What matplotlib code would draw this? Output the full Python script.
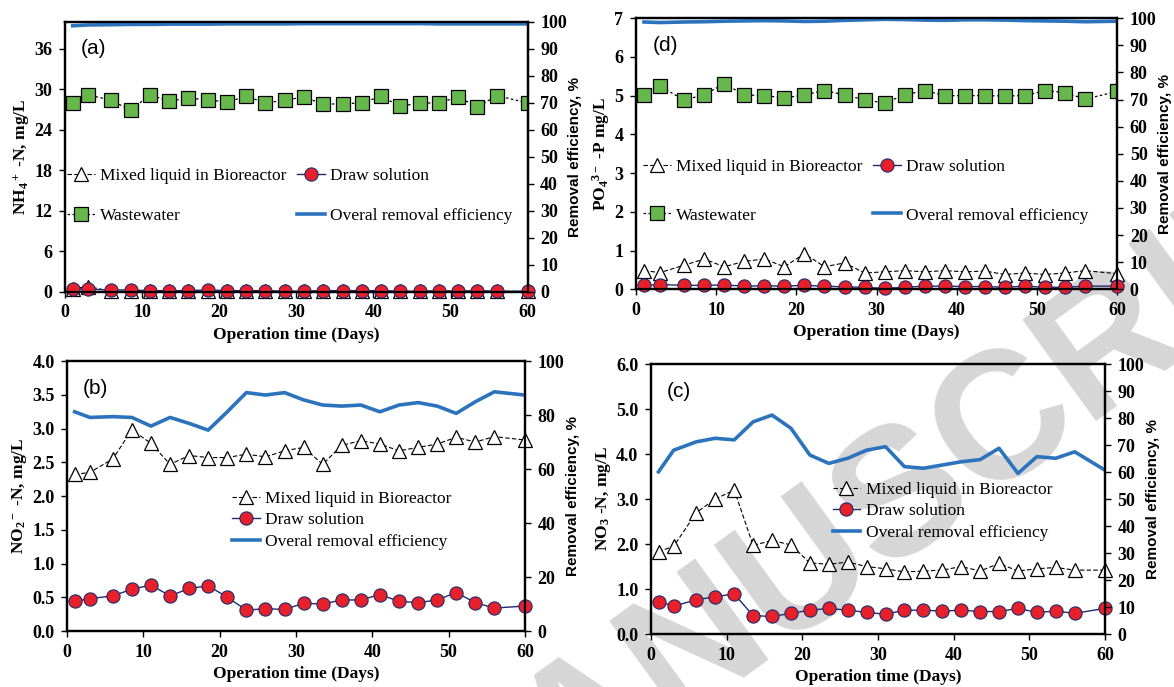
import numpy as np
import matplotlib
matplotlib.use('Agg')
import matplotlib.pyplot as plt
from matplotlib.ticker import MultipleLocator, FormatStrFormatter

plt.rcParams['font.family'] = ['Liberation Serif', 'DejaVu Serif']
plt.rcParams['mathtext.fontset'] = 'custom'
plt.rcParams['mathtext.rm'] = 'Liberation Serif:bold'
plt.rcParams['mathtext.it'] = 'Liberation Serif:bold'
plt.rcParams['mathtext.bf'] = 'Liberation Serif:bold'

# sampling days (same for every panel)
days = [1, 3, 6, 8.5, 11, 13.5, 16, 18.5, 21, 23.5, 26, 28.5, 31, 33.5, 36, 38.5,
        41, 43.5, 46, 48.5, 51, 53.5, 56, 60]

# (a) NH4+-N
nh4_mixed = [0.5, 0.8, 0.1, 0.1, 0.1, 0.1, 0.1, 0.1, 0.1, 0.1, 0.1, 0.1, 0.1, 0.1,
             0.1, 0.1, 0.1, 0.1, 0.1, 0.1, 0.1, 0.1, 0.1, 0.1]
nh4_draw = [0.5, 0.4, 0.3, 0.3, 0.2, 0.2, 0.2, 0.3, 0.2, 0.2, 0.2, 0.1, 0.1, 0.2,
            0.2, 0.2, 0.2, 0.1, 0.1, 0.2, 0.1, 0.2, 0.1, 0.1]
nh4_ww = [28.0, 29.2, 28.4, 26.9, 29.2, 28.3, 28.7, 28.5, 28.1, 29.0, 28.0, 28.4,
          28.9, 27.8, 27.9, 28.0, 29.0, 27.5, 28.0, 28.0, 28.9, 27.4, 29.1, 28.0]
nh4_eff = [98.6, 98.9, 99.0, 99.1, 99.1, 99.2, 99.2, 99.2, 99.3, 99.3, 99.3, 99.3,
           99.4, 99.4, 99.4, 99.4, 99.4, 99.4, 99.4, 99.3, 99.3, 99.3, 99.3, 99.3]

# (d) PO4 3- -P
po4_mixed = [0.48, 0.43, 0.62, 0.78, 0.58, 0.72, 0.78, 0.58, 0.92, 0.58, 0.68, 0.42,
             0.45, 0.48, 0.45, 0.48, 0.45, 0.47, 0.38, 0.42, 0.38, 0.42, 0.48, 0.40]
po4_draw = [0.10, 0.12, 0.10, 0.10, 0.11, 0.08, 0.09, 0.08, 0.10, 0.08, 0.06, 0.05,
            0.02, 0.05, 0.08, 0.08, 0.07, 0.07, 0.05, 0.08, 0.05, 0.05, 0.08, 0.08]
po4_ww = [5.02, 5.24, 4.89, 5.02, 5.31, 5.02, 5.00, 4.94, 5.02, 5.13, 5.02, 4.89,
          4.81, 5.02, 5.13, 5.00, 5.00, 5.00, 4.99, 5.00, 5.13, 5.08, 4.91, 5.11]
po4_eff = [98.6, 98.4, 98.6, 98.7, 98.9, 99.0, 99.1, 99.0, 98.8, 98.9, 99.2, 99.4,
           99.6, 99.5, 99.3, 99.2, 99.4, 99.4, 99.3, 99.1, 99.0, 98.9, 98.7, 98.9]

# (b) NO2- -N
no2_mixed = [2.32, 2.35, 2.55, 2.98, 2.78, 2.47, 2.60, 2.57, 2.57, 2.62, 2.58, 2.67,
             2.72, 2.47, 2.75, 2.82, 2.77, 2.67, 2.72, 2.77, 2.87, 2.80, 2.88, 2.83]
no2_draw = [0.44, 0.48, 0.52, 0.62, 0.68, 0.52, 0.63, 0.67, 0.50, 0.31, 0.33, 0.32,
            0.41, 0.40, 0.46, 0.46, 0.54, 0.44, 0.42, 0.46, 0.57, 0.42, 0.34, 0.37]
no2_eff = [81.2, 79.1, 79.4, 79.1, 75.9, 79.1, 76.9, 74.4, 81.2, 88.3, 87.4, 88.3,
           85.6, 83.7, 83.3, 83.7, 81.2, 83.7, 84.6, 83.3, 80.6, 84.9, 88.6, 87.4]

# (c) NO3- -N
no3_mixed = [1.83, 1.95, 2.70, 3.00, 3.20, 1.97, 2.08, 1.98, 1.58, 1.55, 1.60, 1.50,
             1.45, 1.38, 1.40, 1.42, 1.50, 1.40, 1.57, 1.40, 1.45, 1.48, 1.42, 1.42]
no3_draw = [0.72, 0.62, 0.76, 0.83, 0.89, 0.41, 0.39, 0.46, 0.53, 0.57, 0.53, 0.48,
            0.44, 0.53, 0.53, 0.51, 0.53, 0.50, 0.50, 0.57, 0.48, 0.51, 0.46, 0.57]
no3_eff = [60.1, 68.1, 71.2, 72.5, 71.9, 78.6, 81.1, 76.2, 66.3, 63.2, 65.1, 68.1,
           69.4, 62.0, 61.4, 62.6, 63.8, 64.6, 68.8, 59.5, 65.7, 65.1, 67.5, 60.7]

blue = '#2b74bd'
red = '#e8202a'
navy = '#1d2b6e'
green = '#66b84c'

fig = plt.figure(figsize=(11.74, 6.87), dpi=100)

# watermark behind the plots
fig.text(0.77, 0.28, 'MANUSCRIPT', fontsize=130, fontweight='bold',
         family='Liberation Sans', color='#d6d6d6', rotation=36,
         ha='center', va='center', zorder=-5)


def panel(rect, mixed, draw, eff, ww, ylim, ystep, yfmt, ylabel, rstep, tag,
          legpos, ncol, lspace):
    ax = fig.add_axes(rect)
    ax.patch.set_visible(False)
    ax2 = ax.twinx()
    l1, = ax.plot(days, mixed, color='black', lw=0.8, ls=(0, (4, 2)), marker='^',
                  ms=10.5, mfc='white', mec='black', mew=0.9, clip_on=False, zorder=3,
                  label='Mixed liquid in Bioreactor')
    l2, = ax.plot(days, draw, color=navy, lw=1.0, marker='o', ms=9.5, mfc=red,
                  mec=navy, mew=0.8, clip_on=False, zorder=4, label='Draw solution')
    if ww is not None:
        l3, = ax.plot(days, ww, color='black', lw=0.9, ls=(0, (2, 2)), marker='s',
                      ms=9.5, mfc=green, mec='black', mew=0.9, zorder=3,
                      label='Wastewater')
    l4, = ax2.plot(days, eff, color=blue, lw=2.6, solid_joinstyle='round',
                   label='Overal removal efficiency')
    if ww is not None:
        handles = [l1, l3, l2, l4]
    else:
        handles = [l1, l2, l4]

    ax.set_xlim(0, 60)
    ax.set_ylim(*ylim)
    ax2.set_ylim(0, 100)
    ax.xaxis.set_major_locator(MultipleLocator(10))
    ax.yaxis.set_major_locator(MultipleLocator(ystep))
    ax.yaxis.set_major_formatter(FormatStrFormatter(yfmt))
    ax2.yaxis.set_major_locator(MultipleLocator(rstep))
    for a in (ax, ax2):
        a.tick_params(direction='out', length=4, width=1, labelsize=13, pad=5)
        for lab in a.get_xticklabels() + a.get_yticklabels():
            lab.set_fontweight('bold')
        for s in a.spines.values():
            s.set_linewidth(1.6)
    ax.set_xlabel('Operation time (Days)', fontsize=12.5, fontweight='bold',
                  labelpad=4)
    ax.set_ylabel(ylabel, fontsize=12.5, fontweight='bold', labelpad=2)
    ax2.set_ylabel('Removal efficiency, %', fontsize=11, fontweight='bold',
                   family='Liberation Sans', labelpad=1)
    ax.text(0.035, 0.9, tag, transform=ax.transAxes, fontsize=15,
            family='Liberation Sans', va='center')
    ax2.legend(handles=handles, loc='upper left', bbox_to_anchor=legpos, ncol=ncol,
               frameon=False, fontsize=12.5, borderpad=0, borderaxespad=0,
               handlelength=1.6, handletextpad=0.3, columnspacing=0.6,
               labelspacing=lspace)
    return ax


panel([0.0554, 0.575, 0.394, 0.393], nh4_mixed, nh4_draw, nh4_eff, nh4_ww,
      (0, 40), 6, '%d', 'NH$_4$$^+$ -N, mg/L', 10, '(a)', (0.005, 0.46), 2, 1.4)
panel([0.5417, 0.579, 0.41, 0.3945], po4_mixed, po4_draw, po4_eff, po4_ww,
      (0, 7), 1, '%d', 'PO$_4$$^{3-}$ -P mg/L', 10, '(d)', (0.015, 0.48), 2, 1.85)
panel([0.0571, 0.0815, 0.390, 0.393], no2_mixed, no2_draw, no2_eff, None,
      (0, 4), 0.5, '%.1f', 'NO$_2$$^-$ -N, mg/L', 20, '(b)', (0.36, 0.52), 1, 0.32)
panel([0.5545, 0.0771, 0.3867, 0.393], no3_mixed, no3_draw, no3_eff, None,
      (0, 6), 1, '%.1f', 'NO$_3$ -N, mg/L', 10, '(c)', (0.40, 0.565), 1, 0.32)

fig.savefig('out.png', dpi=100)
